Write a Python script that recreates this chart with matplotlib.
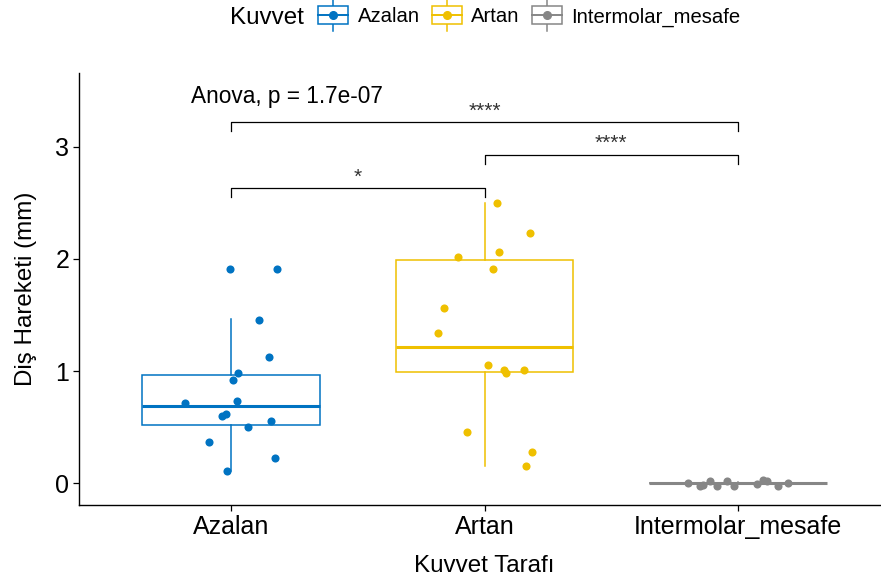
import matplotlib
matplotlib.use("Agg")
import matplotlib.pyplot as plt
from matplotlib.legend_handler import HandlerBase
from matplotlib.patches import Rectangle
from matplotlib.lines import Line2D

plt.rcParams["font.family"] = ["Liberation Sans", "DejaVu Sans"]

# ---------------------------------------------------------
#   Daten
# ---------------------------------------------------------
groups = ["Azalan", "Artan", "Intermolar_mesafe"]
colors = ["#0073C2", "#EFC000", "#868686"]

azalan_vals = [1.91, 1.91, 1.455, 1.125, 0.98, 0.92, 0.71, 0.73, 0.60, 0.615,
               0.50, 0.55, 0.365, 0.22, 0.11]
azalan_jit = [-0.004, 0.181, 0.110, 0.150, 0.028, 0.008, -0.181, 0.024, -0.036,
              -0.020, 0.067, 0.158, -0.087, 0.174, -0.016]

artan_vals = [2.50, 2.23, 2.06, 2.02, 1.91, 1.56, 1.34, 1.05, 1.01, 0.98,
              1.01, 0.455, 0.28, 0.15]
artan_jit = [0.051, 0.181, 0.059, -0.103, 0.032, -0.158, -0.185, 0.012, 0.075,
             0.083, 0.154, -0.071, 0.189, 0.162]

inter_vals = [0.0, -0.024, -0.015, 0.015, -0.03, 0.015, -0.03, -0.01, 0.024,
              0.015, -0.024, 0.0]
inter_jit = [-0.197, -0.150, -0.138, -0.110, -0.083, -0.043, -0.016, 0.075,
             0.099, 0.114, 0.158, 0.197]

# Boxplot-Kennwerte: whislo, q1, med, q3, whishi
box_stats = [
    [0.11, 0.52, 0.69, 0.965, 1.46],
    [0.15, 0.99, 1.21, 1.99, 2.50],
    [-0.005, -0.002, 0.0, 0.002, 0.005],
]

# Vergleiche (Gruppe a, Gruppe b, Höhe, Label)
comparisons = [(0, 1, 2.63, "*"), (1, 2, 2.93, "****"), (0, 2, 3.22, "****")]
anova_label = "Anova, p = 1.7e-07"


class BoxKeyHandler(HandlerBase):
    def __init__(self, color):
        super().__init__()
        self.color = color

    def create_artists(self, legend, orig_handle, xdescent, ydescent,
                       width, height, fontsize, trans):
        cx = width / 2 - xdescent
        cy = height / 2 - ydescent
        bh = 6.6
        wh = 11.5
        box = Rectangle((-xdescent, cy - bh), width, 2 * bh, facecolor="white",
                        edgecolor=self.color, lw=1.1, transform=trans)
        whisk = Line2D([cx, cx], [cy - wh, cy + wh], color=self.color, lw=1.1,
                       transform=trans)
        med = Line2D([-xdescent, width - xdescent], [cy, cy], color=self.color,
                     lw=1.4, transform=trans)
        dot = Line2D([cx], [cy], marker="o", ms=5.5, color=self.color, lw=0,
                     transform=trans)
        return [whisk, box, med, dot]


fig = plt.figure(figsize=(8.81, 5.85), dpi=100)
ax = fig.add_axes([79 / 881, 80 / 585, 811 / 881, 432 / 585])

points = [(azalan_vals, azalan_jit), (artan_vals, artan_jit), (inter_vals, inter_jit)]

for i, (st, col) in enumerate(zip(box_stats, colors)):
    stats = [{"whislo": st[0], "q1": st[1], "med": st[2], "q3": st[3],
              "whishi": st[4], "fliers": []}]
    ax.bxp(stats, positions=[i], widths=0.7, showcaps=False, patch_artist=True,
           boxprops=dict(facecolor="white", edgecolor=col, lw=1.1),
           whiskerprops=dict(color=col, lw=1.1),
           medianprops=dict(color=col, lw=2.2), zorder=2)
    vals, jit = points[i]
    ax.scatter([i + j for j in jit], vals, s=34, color=col, zorder=3,
               linewidths=0)

# Signifikanz-Klammern
tip = 0.08
for a, b, y, lab in comparisons:
    ax.plot([a, a, b, b], [y - tip, y, y, y - tip], color="black", lw=0.9,
            zorder=4)
    ax.text((a + b) / 2, y + 0.05, lab, ha="center", va="baseline",
            fontsize=15, color="#333333")

ax.text(-0.16, 3.45, anova_label, ha="left", va="center", fontsize=16.3)

ax.set_xlim(-0.6, 2.6)
ax.set_ylim(-0.196, 3.66)
ax.set_xticks(range(len(groups)))
ax.set_xticklabels(groups)
ax.set_yticks([0, 1, 2, 3])
ax.tick_params(labelsize=18, length=4, width=0.9, pad=3, colors="black")
for s in ["top", "right"]:
    ax.spines[s].set_visible(False)
for s in ["left", "bottom"]:
    ax.spines[s].set_linewidth(1.0)

ax.set_xlabel("Kuvvet Tarafı", fontsize=17.4, labelpad=12)
ax.set_ylabel("Diş Hareketi (mm)", fontsize=17.4, labelpad=13)

# Legende oben
fig.text(230 / 881, 1 - 18 / 585, "Kuvvet", fontsize=17.4, ha="left",
         va="center")
handles = [Line2D([], []) for _ in groups]
fig.legend(handles, groups, loc="center left",
           bbox_to_anchor=(318 / 881, 1 - 17 / 585),
           ncol=3, frameon=False, fontsize=14.6, handlelength=1.5,
           handletextpad=0.45, columnspacing=0.6, borderpad=0,
           borderaxespad=0,
           handler_map={h: BoxKeyHandler(c) for h, c in zip(handles, colors)})

fig.savefig("out.png", dpi=100)
